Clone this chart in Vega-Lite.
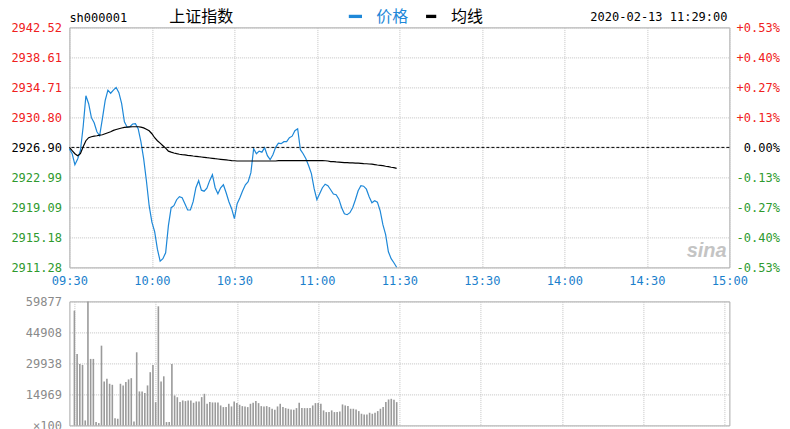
{
  "$schema": "https://vega.github.io/schema/vega-lite/v6.json",
  "background": "white",
  "padding": {"left": 9.4, "top": 8.4, "right": 5, "bottom": 0},
  "bounds": "flush",
  "spacing": 34,
  "config": {
    "font": "DejaVu Sans Mono",
    "view": {"stroke": "#a8a8a8", "strokeWidth": 1},
    "axis": {"labelFont": "DejaVu Sans Mono", "labelFontSize": 12, "labelFlush": false, "labelOverlap": false, "ticks": false, "domain": false, "gridColor": "#c4c4c4", "gridDash": [1, 1], "gridWidth": 1}
  },
  "datasets": {
    "minute": [
      {"m":0,"price":2926.69,"avg":2926.90,"vol":55400},
      {"m":1,"price":2926.08,"avg":2926.47,"vol":34500},
      {"m":2,"price":2924.65,"avg":2926.08,"vol":29700},
      {"m":3,"price":2925.39,"avg":2925.82,"vol":29200},
      {"m":4,"price":2926.47,"avg":2926.08,"vol":2400},
      {"m":5,"price":2929.59,"avg":2926.99,"vol":59877},
      {"m":6,"price":2933.63,"avg":2927.77,"vol":32100},
      {"m":7,"price":2932.59,"avg":2928.16,"vol":32100},
      {"m":8,"price":2930.77,"avg":2928.29,"vol":1600},
      {"m":9,"price":2930.11,"avg":2928.36,"vol":1100},
      {"m":10,"price":2928.94,"avg":2928.42,"vol":38500},
      {"m":11,"price":2928.42,"avg":2928.49,"vol":21200},
      {"m":12,"price":2930.64,"avg":2928.55,"vol":22500},
      {"m":13,"price":2932.98,"avg":2928.68,"vol":20100},
      {"m":14,"price":2934.35,"avg":2928.81,"vol":19600},
      {"m":15,"price":2933.95,"avg":2928.94,"vol":3500},
      {"m":16,"price":2934.35,"avg":2929.11,"vol":3200},
      {"m":17,"price":2934.71,"avg":2929.23,"vol":20100},
      {"m":18,"price":2934.02,"avg":2929.33,"vol":19300},
      {"m":19,"price":2932.59,"avg":2929.43,"vol":20900},
      {"m":20,"price":2930.24,"avg":2929.50,"vol":22200},
      {"m":21,"price":2929.53,"avg":2929.54,"vol":22800},
      {"m":22,"price":2929.59,"avg":2929.58,"vol":1900},
      {"m":23,"price":2929.95,"avg":2929.59,"vol":35300},
      {"m":24,"price":2929.98,"avg":2929.59,"vol":16400},
      {"m":25,"price":2929.33,"avg":2929.59,"vol":16400},
      {"m":26,"price":2927.64,"avg":2929.53,"vol":15700},
      {"m":27,"price":2925.43,"avg":2929.44,"vol":19300},
      {"m":28,"price":2922.56,"avg":2929.27,"vol":25700},
      {"m":29,"price":2919.31,"avg":2929.07,"vol":29200},
      {"m":30,"price":2917.16,"avg":2928.68,"vol":11200},
      {"m":31,"price":2915.93,"avg":2928.16,"vol":57500},
      {"m":32,"price":2913.65,"avg":2927.77,"vol":21200},
      {"m":33,"price":2912.09,"avg":2927.45,"vol":23700},
      {"m":34,"price":2912.41,"avg":2927.12,"vol":1600},
      {"m":35,"price":2913.19,"avg":2926.80,"vol":1600},
      {"m":36,"price":2916.71,"avg":2926.41,"vol":29700},
      {"m":37,"price":2919.05,"avg":2926.28,"vol":14450},
      {"m":38,"price":2919.31,"avg":2926.17,"vol":13600},
      {"m":39,"price":2920.09,"avg":2926.08,"vol":11240},
      {"m":40,"price":2920.48,"avg":2926.01,"vol":12040},
      {"m":41,"price":2920.35,"avg":2925.95,"vol":11720},
      {"m":42,"price":2919.57,"avg":2925.92,"vol":12040},
      {"m":43,"price":2918.75,"avg":2925.87,"vol":12040},
      {"m":44,"price":2918.75,"avg":2925.83,"vol":10920},
      {"m":45,"price":2919.83,"avg":2925.78,"vol":11560},
      {"m":46,"price":2921.65,"avg":2925.74,"vol":11560},
      {"m":47,"price":2922.57,"avg":2925.69,"vol":13650},
      {"m":48,"price":2921.33,"avg":2925.65,"vol":15250},
      {"m":49,"price":2921.20,"avg":2925.61,"vol":10430},
      {"m":50,"price":2921.59,"avg":2925.56,"vol":11240},
      {"m":51,"price":2922.57,"avg":2925.52,"vol":11080},
      {"m":52,"price":2923.35,"avg":2925.48,"vol":11080},
      {"m":53,"price":2921.65,"avg":2925.43,"vol":11080},
      {"m":54,"price":2920.87,"avg":2925.39,"vol":9630},
      {"m":55,"price":2921.65,"avg":2925.35,"vol":8830},
      {"m":56,"price":2922.04,"avg":2925.31,"vol":8830},
      {"m":57,"price":2921.00,"avg":2925.27,"vol":10430},
      {"m":58,"price":2919.83,"avg":2925.23,"vol":9150},
      {"m":59,"price":2918.92,"avg":2925.19,"vol":11560},
      {"m":60,"price":2917.62,"avg":2925.16,"vol":10760},
      {"m":61,"price":2919.57,"avg":2925.13,"vol":9950},
      {"m":62,"price":2920.35,"avg":2925.13,"vol":9310},
      {"m":63,"price":2921.26,"avg":2925.13,"vol":9150},
      {"m":64,"price":2922.04,"avg":2925.13,"vol":8830},
      {"m":65,"price":2922.43,"avg":2925.13,"vol":10430},
      {"m":66,"price":2923.61,"avg":2925.13,"vol":10920},
      {"m":67,"price":2926.73,"avg":2925.13,"vol":11720},
      {"m":68,"price":2926.08,"avg":2925.13,"vol":10760},
      {"m":69,"price":2926.41,"avg":2925.13,"vol":9310},
      {"m":70,"price":2926.28,"avg":2925.13,"vol":9150},
      {"m":71,"price":2926.86,"avg":2925.13,"vol":9310},
      {"m":72,"price":2925.82,"avg":2925.13,"vol":8830},
      {"m":73,"price":2925.30,"avg":2925.13,"vol":8030},
      {"m":74,"price":2925.95,"avg":2925.13,"vol":7550},
      {"m":75,"price":2926.90,"avg":2925.13,"vol":9150},
      {"m":76,"price":2927.45,"avg":2925.17,"vol":10430},
      {"m":77,"price":2927.38,"avg":2925.17,"vol":8830},
      {"m":78,"price":2927.64,"avg":2925.17,"vol":8350},
      {"m":79,"price":2927.64,"avg":2925.17,"vol":8030},
      {"m":80,"price":2928.16,"avg":2925.17,"vol":7710},
      {"m":81,"price":2928.36,"avg":2925.17,"vol":7550},
      {"m":82,"price":2929.07,"avg":2925.17,"vol":8350},
      {"m":83,"price":2929.33,"avg":2925.17,"vol":10920},
      {"m":84,"price":2926.60,"avg":2925.17,"vol":8350},
      {"m":85,"price":2926.08,"avg":2925.17,"vol":8350},
      {"m":86,"price":2925.43,"avg":2925.17,"vol":8350},
      {"m":87,"price":2924.52,"avg":2925.17,"vol":8350},
      {"m":88,"price":2923.48,"avg":2925.17,"vol":9630},
      {"m":89,"price":2921.52,"avg":2925.17,"vol":10760},
      {"m":90,"price":2920.09,"avg":2925.17,"vol":10760},
      {"m":91,"price":2920.87,"avg":2925.17,"vol":10430},
      {"m":92,"price":2921.65,"avg":2925.17,"vol":7230},
      {"m":93,"price":2922.11,"avg":2925.16,"vol":6420},
      {"m":94,"price":2921.91,"avg":2925.13,"vol":6420},
      {"m":95,"price":2921.39,"avg":2925.06,"vol":7230},
      {"m":96,"price":2920.83,"avg":2925.04,"vol":6420},
      {"m":97,"price":2920.74,"avg":2925.01,"vol":6420},
      {"m":98,"price":2920.16,"avg":2924.99,"vol":6740},
      {"m":99,"price":2919.05,"avg":2924.96,"vol":10120},
      {"m":100,"price":2918.27,"avg":2924.93,"vol":9630},
      {"m":101,"price":2918.14,"avg":2924.91,"vol":9310},
      {"m":102,"price":2918.40,"avg":2924.89,"vol":8030},
      {"m":103,"price":2919.05,"avg":2924.88,"vol":8030},
      {"m":104,"price":2920.09,"avg":2924.85,"vol":7710},
      {"m":105,"price":2921.26,"avg":2924.84,"vol":6900},
      {"m":106,"price":2921.91,"avg":2924.82,"vol":5620},
      {"m":107,"price":2921.85,"avg":2924.79,"vol":5300},
      {"m":108,"price":2921.46,"avg":2924.77,"vol":5300},
      {"m":109,"price":2920.48,"avg":2924.74,"vol":6100},
      {"m":110,"price":2919.70,"avg":2924.71,"vol":5620},
      {"m":111,"price":2919.96,"avg":2924.66,"vol":6100},
      {"m":112,"price":2919.77,"avg":2924.61,"vol":6900},
      {"m":113,"price":2918.66,"avg":2924.57,"vol":8030},
      {"m":114,"price":2916.84,"avg":2924.52,"vol":8830},
      {"m":115,"price":2915.54,"avg":2924.45,"vol":11240},
      {"m":116,"price":2913.32,"avg":2924.39,"vol":12520},
      {"m":117,"price":2912.41,"avg":2924.32,"vol":12840},
      {"m":118,"price":2911.89,"avg":2924.26,"vol":12360},
      {"m":119,"price":2911.30,"avg":2924.17,"vol":11240}
    ]
  },
  "vconcat": [
    {
      "width": 660,
      "height": 240,
      "data": {"name": "minute"},
      "layer": [
        {
          "mark": {"type": "line", "color": "#1e88d8", "strokeWidth": 1.2, "interpolate": "linear"},
          "encoding": {
            "x": {"field": "m", "type": "quantitative", "scale": {"domain": [0, 240], "nice": false, "zero": false},
              "axis": {"values": [0, 30, 60, 90, 120, 150, 180, 210, 240], "title": null, "grid": true, "labelColor": "#1a80cc", "labelPadding": 8,
                "labelExpr": "['09:30','10:00','10:30','11:00','11:30','13:30','14:00','14:30','15:00'][round(datum.value/30)]"}},
            "y": {"field": "price", "type": "quantitative", "scale": {"domain": [2911.28, 2942.52], "nice": false, "zero": false},
              "axis": {"orient": "left", "values": [2911.28, 2915.18, 2919.09, 2922.99, 2926.90, 2930.80, 2934.71, 2938.61, 2942.52], "format": ".2f", "title": null, "grid": true, "labelPadding": 8,
                "labelColor": {"expr": "datum.value > 2926.95 ? '#f02020' : (datum.value < 2926.85 ? '#2e9a2e' : '#000000')"}}}
          }
        },
        {
          "mark": {"type": "line", "color": "#000000", "strokeWidth": 1.2},
          "encoding": {
            "x": {"field": "m", "type": "quantitative"},
            "y": {"field": "avg", "type": "quantitative",
              "axis": {"orient": "right", "values": [2911.28, 2915.18, 2919.09, 2922.99, 2926.90, 2930.80, 2934.71, 2938.61, 2942.52], "title": null, "grid": false, "labelAlign": "right", "labelPadding": 50,
                "labelExpr": "(datum.value > 2926.95 ? '+' : datum.value < 2926.85 ? '-' : '') + format(abs(datum.value - 2926.9) / 29.269, '.2f') + '%'",
                "labelColor": {"expr": "datum.value > 2926.95 ? '#f02020' : (datum.value < 2926.85 ? '#2e9a2e' : '#000000')"}}}
          }
        },
        {
          "data": {"values": [{"pc": 2926.9}]},
          "mark": {"type": "rule", "color": "#000", "strokeDash": [3, 2], "strokeWidth": 1},
          "encoding": {"y": {"field": "pc", "type": "quantitative", "axis": null}}
        },
        {
          "data": {"values": [{}]},
          "mark": {"type": "text", "text": "sh000001", "align": "left", "baseline": "alphabetic", "fontSize": 12, "color": "#000"},
          "encoding": {"x": {"datum": 0}, "y": {"datum": 2943.16, "axis": null}}
        },
        {
          "data": {"values": [{}]},
          "mark": {"type": "text", "text": "上证指数", "align": "left", "baseline": "alphabetic", "fontSize": 16, "font": "Noto Sans CJK SC", "color": "#000"},
          "encoding": {"x": {"datum": 36.3}, "y": {"datum": 2943.2, "axis": null}}
        },
        {
          "data": {"values": [{}]},
          "mark": {"type": "rule", "color": "#1e88d8", "strokeWidth": 3.3},
          "encoding": {"x": {"datum": 101.6}, "x2": {"datum": 106.4}, "y": {"datum": 2943.95, "axis": null}}
        },
        {
          "data": {"values": [{}]},
          "mark": {"type": "text", "text": "价格", "align": "left", "baseline": "alphabetic", "fontSize": 16, "font": "Noto Sans CJK SC", "color": "#1e88d8"},
          "encoding": {"x": {"datum": 111.6}, "y": {"datum": 2943.2, "axis": null}}
        },
        {
          "data": {"values": [{}]},
          "mark": {"type": "rule", "color": "#000", "strokeWidth": 3.3},
          "encoding": {"x": {"datum": 129.7}, "x2": {"datum": 133.4}, "y": {"datum": 2943.95, "axis": null}}
        },
        {
          "data": {"values": [{}]},
          "mark": {"type": "text", "text": "均线", "align": "left", "baseline": "alphabetic", "fontSize": 16, "font": "Noto Sans CJK SC", "color": "#000"},
          "encoding": {"x": {"datum": 138.8}, "y": {"datum": 2943.2, "axis": null}}
        },
        {
          "data": {"values": [{}]},
          "mark": {"type": "text", "text": "2020-02-13 11:29:00", "align": "right", "baseline": "alphabetic", "fontSize": 12, "color": "#000"},
          "encoding": {"x": {"datum": 239.3}, "y": {"datum": 2943.3, "axis": null}}
        },
        {
          "data": {"values": [{}]},
          "mark": {"type": "text", "text": "sina", "align": "right", "baseline": "alphabetic", "fontSize": 20, "font": "Liberation Sans", "fontStyle": "italic", "fontWeight": "bold", "color": "#c4c4c4"},
          "encoding": {"x": {"datum": 239}, "y": {"datum": 2912.6, "axis": null}}
        }
      ],
      "resolve": {"axis": {"y": "independent"}}
    },
    {
      "width": 660,
      "height": 124,
      "data": {"name": "minute"},
      "mark": {"type": "bar", "size": 1.6, "color": "#9a9a9a"},
      "encoding": {
        "x": {"field": "m", "type": "quantitative", "scale": {"domain": [0, 240], "nice": false, "zero": false},
          "axis": {"values": [0, 30, 60, 90, 120, 150, 180, 210, 240], "title": null, "grid": true, "labels": false}},
        "y": {"field": "vol", "type": "quantitative", "scale": {"domain": [0, 59877], "nice": false},
          "axis": {"values": [0, 14969, 29938, 44908, 59877], "title": null, "grid": true, "labelPadding": 8, "labelColor": "#8a8a8a",
            "labelExpr": "datum.value == 0 ? '×100' : format(datum.value, 'd')"}}
      }
    }
  ]
}
